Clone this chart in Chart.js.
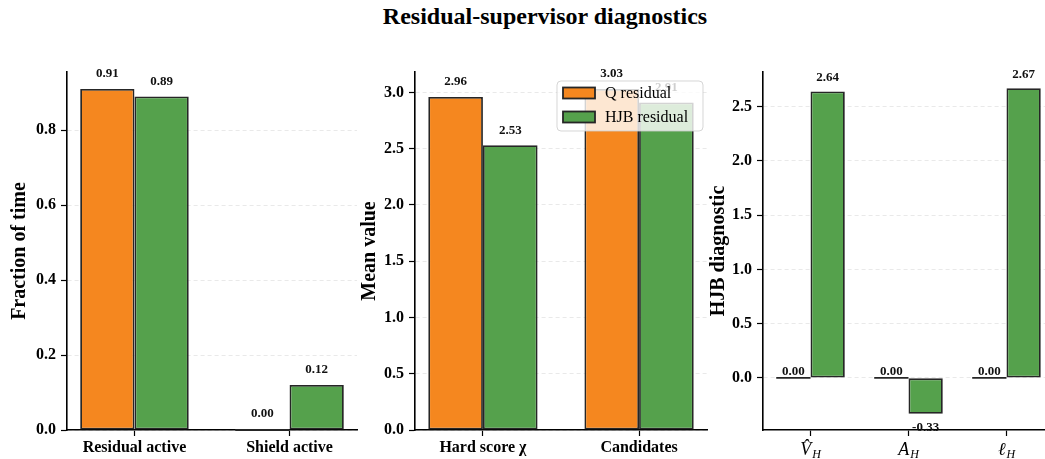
<!DOCTYPE html>
<html>
<head>
<meta charset="utf-8">
<script src="https://cdn.jsdelivr.net/npm/chart.js@4.4.1/dist/chart.umd.min.js"></script>
<style>
  html, body { margin: 0; padding: 0; background: #fff; overflow: hidden; width: 1045px; height: 459px; }
  #title { position: absolute; left: 0; top: 3px; width: 1090px; text-align: center;
           font: bold 24px "Liberation Serif", "DejaVu Serif", serif; color: #000; }
  .panel { position: absolute; top: 0; }
</style>
</head>
<body>
<div id="title">Residual-supervisor diagnostics</div>
<canvas id="activity" class="panel" style="left:0px" width="362" height="459"></canvas>
<canvas id="score" class="panel" style="left:350px" width="362" height="459"></canvas>
<canvas id="hjb" class="panel" style="left:699px" width="360" height="459"></canvas>
<script>
// ---- data ----
const seriesNames = ['Q residual', 'HJB residual'];
const seriesColors = ['#f5871f', '#55a14c'];

const activityCategories = ['Residual active', 'Shield active'];
const activityQ = [0.91, 0.00];
const activityHJB = [0.89, 0.12];

const scoreCategories = ['Hard score χ', 'Candidates'];
const scoreQ = [2.96, 3.03];
const scoreHJB = [2.53, 2.91];

// symbol + subscript for the HJB diagnostic axis
const hjbSymbols = ['V\u0302', 'A', '\u2113'];
const hjbSubscripts = ['H', 'H', 'H'];
const hjbQ = [0.00, 0.00, 0.00];
const hjbHJB = [2.64, -0.33, 2.67];

const SERIF = '"Liberation Serif", "DejaVu Serif", serif';
const BAR_EDGE = '#262626';
const BAR_WIDTH = 0.35;

// ---- plugins ----
// zero-height bars still get a visible edge line at the baseline
const zeroBars = {
  id: 'zeroBars',
  afterDatasetsDraw(chart) {
    const ctx = chart.ctx;
    ctx.save();
    ctx.strokeStyle = BAR_EDGE;
    ctx.lineWidth = 1.8;
    chart.data.datasets.forEach((ds, di) => {
      chart.getDatasetMeta(di).data.forEach((bar, i) => {
        if (ds.data[i].y === 0) {
          ctx.beginPath();
          ctx.moveTo(bar.x - bar.width / 2, bar.base);
          ctx.lineTo(bar.x + bar.width / 2, bar.base);
          ctx.stroke();
        }
      });
    });
    ctx.restore();
  }
};

// numeric value printed over each bar
const valueLabels = {
  id: 'valueLabels',
  afterDatasetsDraw(chart, args, opts) {
    const ctx = chart.ctx;
    ctx.save();
    ctx.font = 'bold 13px ' + SERIF;
    ctx.fillStyle = '#111';
    ctx.textAlign = 'center';
    ctx.textBaseline = 'middle';
    chart.data.datasets.forEach((ds, di) => {
      chart.getDatasetMeta(di).data.forEach((bar, i) => {
        const v = ds.data[i].y;
        let y;
        if (v > 0) y = bar.y - opts.above;
        else if (v < 0) y = bar.y + opts.below;
        else y = bar.base - opts.zero;
        ctx.fillText(v.toFixed(2), bar.x, y);
      });
    });
    ctx.restore();
  }
};

// framed legend in the upper right of the plot area
const boxLegend = {
  id: 'boxLegend',
  afterDraw(chart, args, opts) {
    if (!opts.show) return;
    const ctx = chart.ctx;
    const a = chart.chartArea;
    const w = 146, h = 50;
    const x0 = a.right - w - 4, y0 = a.top + 9;
    ctx.save();
    ctx.beginPath();
    ctx.roundRect(x0, y0, w, h, 4);
    ctx.fillStyle = 'rgba(255,255,255,0.8)';
    ctx.fill();
    ctx.strokeStyle = 'rgba(204,204,204,0.8)';
    ctx.lineWidth = 1;
    ctx.stroke();
    ctx.font = '16px ' + SERIF;
    ctx.textBaseline = 'middle';
    ctx.textAlign = 'left';
    chart.data.datasets.forEach((ds, i) => {
      const cy = y0 + 12 + i * 24;
      ctx.fillStyle = ds.backgroundColor;
      ctx.fillRect(x0 + 6, cy - 5.5, 32, 11);
      ctx.strokeStyle = BAR_EDGE;
      ctx.lineWidth = 1.8;
      ctx.strokeRect(x0 + 6, cy - 5.5, 32, 11);
      ctx.fillStyle = '#000';
      ctx.fillText(ds.label, x0 + 48, cy + 1);
    });
    ctx.restore();
  }
};

// italic symbols with subscripts under the category ticks
const mathTicks = {
  id: 'mathTicks',
  afterDraw(chart, args, opts) {
    if (!opts.symbols) return;
    const ctx = chart.ctx;
    const xs = chart.scales.x;
    ctx.save();
    ctx.fillStyle = '#000';
    ctx.textBaseline = 'alphabetic';
    ctx.textAlign = 'left';
    xs.ticks.forEach((t) => {
      const sym = opts.symbols[t.value];
      const sub = opts.subs[t.value];
      if (sym === undefined) return;
      const px = xs.getPixelForValue(t.value);
      ctx.font = 'italic 18px ' + SERIF;
      const w1 = ctx.measureText(sym).width;
      ctx.font = 'italic 12px ' + SERIF;
      const w2 = ctx.measureText(sub).width;
      const start = px - (w1 + w2 + 1) / 2;
      const base = xs.bottom - 4;
      ctx.font = 'italic 18px ' + SERIF;
      ctx.fillText(sym, start, base);
      ctx.font = 'italic 12px ' + SERIF;
      ctx.fillText(sub, start + w1 + 1, base + 3);
    });
    ctx.restore();
  }
};

// ---- panel builder ----
function buildPanel(id, categories, qVals, hVals, cfg) {
  const n = categories.length;
  const xLo = -BAR_WIDTH, xHi = n - 1 + BAR_WIDTH;
  const xPad = 0.05 * (xHi - xLo);
  const all = qVals.concat(hVals, [0]);
  const yLo = Math.min(...all), yHi = Math.max(...all);
  const yPad = 0.05 * (yHi - yLo);
  const yMin = yLo < 0 ? yLo - yPad : 0;
  const yMax = yHi + yPad;

  const mk = (vals) => vals.map((v, i) => ({ x: i, y: v }));
  new Chart(document.getElementById(id), {
    type: 'bar',
    data: {
      datasets: [
        { label: seriesNames[0], data: mk(qVals), backgroundColor: seriesColors[0],
          borderColor: BAR_EDGE, borderWidth: 1.8, borderSkipped: false },
        { label: seriesNames[1], data: mk(hVals), backgroundColor: seriesColors[1],
          borderColor: BAR_EDGE, borderWidth: 1.8, borderSkipped: false }
      ]
    },
    options: {
      responsive: false,
      animation: false,
      layout: { padding: { top: 72, right: 5, left: 0, bottom: 0 } },
      datasets: { bar: { categoryPercentage: 2 * BAR_WIDTH, barPercentage: 1.0, grouped: true } },
      plugins: {
        legend: { display: false },
        tooltip: { enabled: false },
        valueLabels: cfg.labels,
        boxLegend: { show: !!cfg.legend },
        mathTicks: cfg.math || {}
      },
      scales: {
        x: {
          type: 'linear',
          min: xLo - xPad,
          max: xHi + xPad,
          offset: false,
          afterFit(s) { s.height = 29; },
          afterBuildTicks(s) { s.ticks = categories.map((c, i) => ({ value: i })); },
          ticks: {
            includeBounds: false,
            autoSkip: false,
            maxRotation: 0,
            padding: 2,
            color: '#000',
            font: { family: SERIF, size: 16, weight: 'bold' },
            callback: (v) => cfg.math ? '' : (categories[v] ?? '')
          },
          grid: { offset: false, drawOnChartArea: false, drawTicks: true, tickLength: 6,
                  tickColor: '#000', tickWidth: 1.2 },
          border: { display: true, color: '#000', width: 1.6 }
        },
        y: {
          min: yMin,
          max: yMax,
          afterFit(s) { s.width = cfg.yWidth; },
          ticks: {
            stepSize: cfg.step,
            includeBounds: false,
            padding: 5,
            color: '#000',
            font: { family: SERIF, size: 16, weight: 'bold' },
            callback: (v) => v.toFixed(1)
          },
          grid: { color: '#e3e3e3', lineWidth: 0.8, drawTicks: true, tickLength: 6,
                  tickColor: '#000', tickWidth: 1.2, tickBorderDash: [] },
          border: { display: true, color: '#000', width: 1.6, dash: [4, 3] },
          title: {
            display: true,
            text: cfg.yTitle,
            color: '#000',
            font: { family: SERIF, size: 20, weight: 'bold' },
            padding: { top: 8, bottom: 0 }
          }
        }
      }
    },
    plugins: [zeroBars, valueLabels, boxLegend, mathTicks]
  });
}

buildPanel('activity', activityCategories, activityQ, activityHJB, {
  yTitle: 'Fraction of time', step: 0.2, yWidth: 67,
  labels: { above: 15, below: 14, zero: 16 }
});
buildPanel('score', scoreCategories, scoreQ, scoreHJB, {
  yTitle: 'Mean value', step: 0.5, yWidth: 65, legend: true,
  labels: { above: 15, below: 14, zero: 16 }
});
buildPanel('hjb', hjbSymbols, hjbQ, hjbHJB, {
  yTitle: 'HJB diagnostic', step: 0.5, yWidth: 64,
  labels: { above: 14, below: 14, zero: 6 },
  math: { symbols: hjbSymbols, subs: hjbSubscripts }
});
</script>
</body>
</html>
